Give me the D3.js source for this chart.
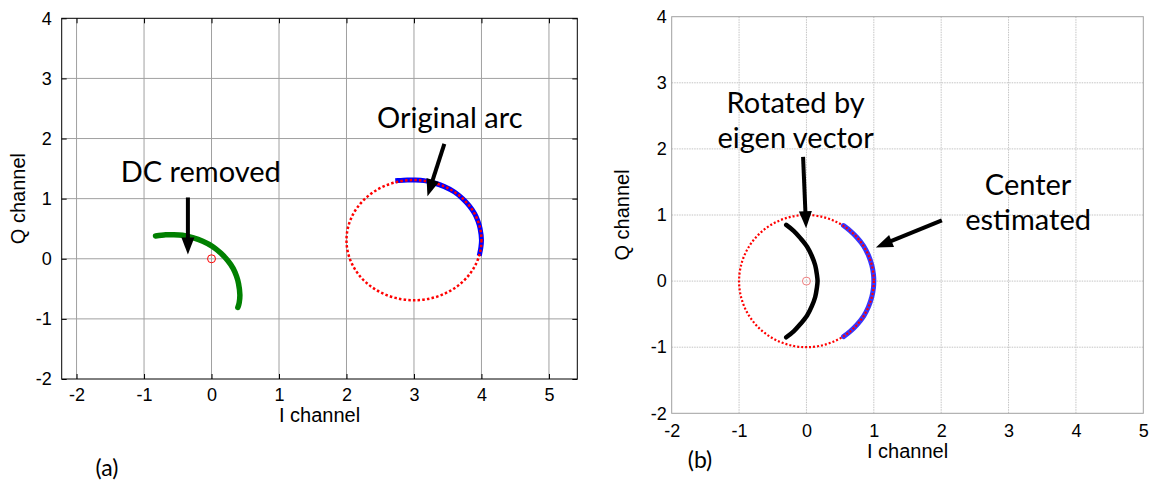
<!DOCTYPE html>
<html><head><meta charset="utf-8">
<script src="https://cdn.jsdelivr.net/npm/d3@7"></script>
<style>body{margin:0;background:#fff}</style>
</head><body>
<svg id="c" width="1158" height="483"></svg>
<script>
// ---------- data ----------
const xTicks = [-2, -1, 0, 1, 2, 3, 4, 5];
const yTicks = [-2, -1, 0, 1, 2, 3, 4];

// panel (a)
const originalArc = [[2.76,1.30],[2.90,1.31],[3.00,1.31],[3.15,1.30],[3.30,1.26],[3.45,1.20],[3.60,1.11],[3.72,1.00],[3.82,0.88],[3.90,0.75],[3.95,0.62],[3.98,0.50],[4.00,0.31],[3.99,0.18],[3.975,0.09]];
const dcRemoved = [[-0.83,0.38],[-0.68,0.40],[-0.58,0.40],[-0.43,0.39],[-0.28,0.35],[-0.13,0.29],[0.02,0.20],[0.14,0.09],[0.24,-0.03],[0.32,-0.16],[0.37,-0.29],[0.40,-0.41],[0.42,-0.60],[0.41,-0.73],[0.39,-0.81]];
const fitCenterA = [3.0, 0.31];
const fitRadiusA = 1.0;
const originA = [0, 0];

// panel (b)
const centeredArc = [[0.55,0.84],[0.65,0.76],[0.75,0.66],[0.85,0.53],[0.92,0.39],[0.97,0.24],[0.995,0.10],[1.0,0.0],[0.995,-0.10],[0.97,-0.24],[0.92,-0.39],[0.85,-0.53],[0.75,-0.66],[0.65,-0.76],[0.55,-0.84]];
const rotatedArc = [[-0.30,0.85],[-0.19,0.76],[-0.09,0.65],[0.01,0.52],[0.08,0.38],[0.13,0.24],[0.155,0.10],[0.165,0.0],[0.155,-0.10],[0.13,-0.24],[0.08,-0.38],[0.01,-0.52],[-0.09,-0.65],[-0.19,-0.76],[-0.30,-0.85]];
const fitCenterB = [0, 0];
const fitRadiusB = 1.0;

// annotations (data coordinates)
const annotA = [
  {lines:["DC removed"], x:-0.16, y:1.27, from:[-0.35,1.02], to:[-0.35,0.07]},
  {lines:["Original arc"], x:3.53, y:2.18, from:[3.45,1.91], to:[3.20,1.04]}
];
const annotB = [
  {lines:["Rotated by","eigen vector"], x:-0.16, y:2.54, from:[-0.05,1.88], to:[-0.005,0.80]},
  {lines:["Center","estimated"], x:3.29, y:1.30, from:[2.01,0.92], to:[1.03,0.51]}
];

// ---------- drawing ----------
const svg = d3.select("#c");
const annFont = "Lato, 'Open Sans', sans-serif";
const axFont = "'Liberation Sans', Arial, sans-serif";

function arrow(g, x1, y1, x2, y2, hw, hl, sw) {
  const dx = x2 - x1, dy = y2 - y1, L = Math.hypot(dx, dy);
  const ux = dx / L, uy = dy / L, px = -uy, py = ux;
  const bx = x2 - ux * hl, by = y2 - uy * hl;
  g.append("line").attr("x1", x1).attr("y1", y1).attr("x2", bx + ux*2).attr("y2", by + uy*2)
    .attr("stroke", "#000").attr("stroke-width", sw);
  g.append("path").attr("d", `M${x2},${y2}L${bx+px*hw/2},${by+py*hw/2}L${bx-px*hw/2},${by-py*hw/2}Z`)
    .attr("fill", "#000");
}

function panel(opt) {
  const x = d3.scaleLinear().domain(opt.xd).range([opt.x0, opt.x1]);
  const y = d3.scaleLinear().domain([-2, 4]).range([opt.y1, opt.y0]);
  const g = svg.append("g");

  // grid
  g.append("g").selectAll("line").data(xTicks.filter(t => x(t) > opt.x0 + 1 && x(t) < opt.x1 - 1)).join("line")
    .attr("x1", d => x(d)).attr("x2", d => x(d)).attr("y1", opt.y0).attr("y2", opt.y1)
    .attr("stroke", opt.gridColor).attr("stroke-width", 1).attr("stroke-dasharray", opt.gridDash);
  g.append("g").selectAll("line").data(yTicks.filter(t => y(t) > opt.y0 + 1 && y(t) < opt.y1 - 1)).join("line")
    .attr("y1", d => y(d)).attr("y2", d => y(d)).attr("x1", opt.x0).attr("x2", opt.x1)
    .attr("stroke", opt.gridColor).attr("stroke-width", 1).attr("stroke-dasharray", opt.gridDash);

  const tl = opt.tickLen;
  const fmt = d => String(d);
  g.append("g").attr("transform", `translate(0,${opt.y1})`)
    .call(d3.axisBottom(x).tickValues(xTicks).tickSize(-tl).tickPadding(opt.xPad).tickFormat(fmt));
  g.append("g").attr("transform", `translate(${opt.x0},0)`)
    .call(d3.axisLeft(y).tickValues(yTicks).tickSize(-tl).tickPadding(5 + tl).tickFormat(fmt));
  if (tl > 0) {
    g.append("g").attr("transform", `translate(0,${opt.y0})`)
      .call(d3.axisTop(x).tickValues(xTicks).tickSize(-tl).tickFormat(""));
    g.append("g").attr("transform", `translate(${opt.x1},0)`)
      .call(d3.axisRight(y).tickValues(yTicks).tickSize(-tl).tickFormat(""));
  }
  g.selectAll(".domain").remove();
  g.selectAll(".tick line").attr("stroke", opt.boxColor);
  g.selectAll(".tick text").attr("font-family", axFont).attr("font-size", 18).attr("fill", "#000");

  // box
  g.append("rect").attr("x", opt.x0).attr("y", opt.y0).attr("width", opt.x1 - opt.x0).attr("height", opt.y1 - opt.y0)
    .attr("fill", "none").attr("stroke", opt.boxColor).attr("stroke-width", 1);

  // labels
  g.append("text").attr("x", (opt.x0 + opt.x1) / 2).attr("y", opt.xLabY).attr("text-anchor", "middle")
    .attr("font-family", axFont).attr("font-size", 20).text("I channel");
  g.append("text").attr("transform", `translate(${opt.yLabX},${(opt.y0 + opt.y1) / 2}) rotate(-90)`)
    .attr("text-anchor", "middle").attr("dy", "0.35em")
    .attr("font-family", axFont).attr("font-size", 20).text("Q channel");
  g.append("text").attr("x", opt.tagX).attr("y", opt.tagY).attr("text-anchor", "middle")
    .attr("font-family", annFont).attr("font-size", 23).text(opt.tag);

  return {g, x, y};
}

const line = (x, y) => d3.line().x(d => x(d[0])).y(d => y(d[1])).curve(d3.curveCatmullRom);

// ---- panel (a) ----
const A = panel({xd: [-2.22, 5.42], x0: 61.7, x1: 577.3, y0: 18.3, y1: 379,
  gridColor: "#a0a0a0", gridDash: null, boxColor: "#000", tickLen: 5, xPad: 9,
  xLabY: 422, yLabX: 18, tag: "(a)", tagX: 107, tagY: 476});
{
  const {g, x, y} = A;
  g.append("path").datum(dcRemoved).attr("d", line(x, y)).attr("fill", "none")
    .attr("stroke", "#008000").attr("stroke-width", 5.5).attr("stroke-linecap", "round");
  g.append("path").datum(originalArc).attr("d", line(x, y)).attr("fill", "none")
    .attr("stroke", "#0000ff").attr("stroke-width", 5).attr("stroke-linecap", "square");
  g.append("ellipse").attr("cx", x(fitCenterA[0])).attr("cy", y(fitCenterA[1]))
    .attr("rx", x(fitCenterA[0] + fitRadiusA) - x(fitCenterA[0]))
    .attr("ry", y(fitCenterA[1] - fitRadiusA) - y(fitCenterA[1]))
    .attr("fill", "none").attr("stroke", "#ff0000").attr("stroke-width", 2.5).attr("stroke-dasharray", "2.5 2.2");
  g.append("circle").attr("cx", x(originA[0])).attr("cy", y(originA[1])).attr("r", 4)
    .attr("fill", "none").attr("stroke", "#ff0000").attr("stroke-width", 1);
  annotA.forEach(a => {
    a.lines.forEach((t, i) => g.append("text").attr("x", x(a.x)).attr("y", y(a.y) + i * 36)
      .attr("text-anchor", "middle").attr("font-family", annFont).attr("font-size", 29).text(t));
    arrow(g, x(a.from[0]), y(a.from[1]), x(a.to[0]), y(a.to[1]), 13, 17, 4);
  });
}

// ---- panel (b) ----
const B = panel({xd: [-2, 5], x0: 671.7, x1: 1143.3, y0: 16.7, y1: 413.3,
  gridColor: "#c4c4c4", gridDash: "1.5 1", boxColor: "#a0a0a0", tickLen: 0, xPad: 11,
  xLabY: 458, yLabX: 622, tag: "(b)", tagX: 700, tagY: 468});
{
  const {g, x, y} = B;
  g.append("path").datum(centeredArc).attr("d", line(x, y)).attr("fill", "none")
    .attr("stroke", "#2020ff").attr("stroke-width", 5).attr("stroke-linecap", "round").attr("opacity", 0.9);
  g.append("path").datum(rotatedArc).attr("d", line(x, y)).attr("fill", "none")
    .attr("stroke", "#000").attr("stroke-width", 4.5).attr("stroke-linecap", "round");
  g.append("ellipse").attr("cx", x(fitCenterB[0])).attr("cy", y(fitCenterB[1]))
    .attr("rx", x(fitCenterB[0] + fitRadiusB) - x(fitCenterB[0]))
    .attr("ry", y(fitCenterB[1] - fitRadiusB) - y(fitCenterB[1]))
    .attr("fill", "none").attr("stroke", "#ff0000").attr("stroke-width", 2.2).attr("stroke-dasharray", "2 2");
  g.append("circle").attr("cx", x(0)).attr("cy", y(0)).attr("r", 4)
    .attr("fill", "none").attr("stroke", "#f08080").attr("stroke-width", 1);
  annotB.forEach(a => {
    a.lines.forEach((t, i) => g.append("text").attr("x", x(a.x)).attr("y", y(a.y) + i * 35)
      .attr("text-anchor", "middle").attr("font-family", annFont).attr("font-size", 29).text(t));
    arrow(g, x(a.from[0]), y(a.from[1]), x(a.to[0]), y(a.to[1]), 13, 17, 4);
  });
}
</script>
</body></html>
